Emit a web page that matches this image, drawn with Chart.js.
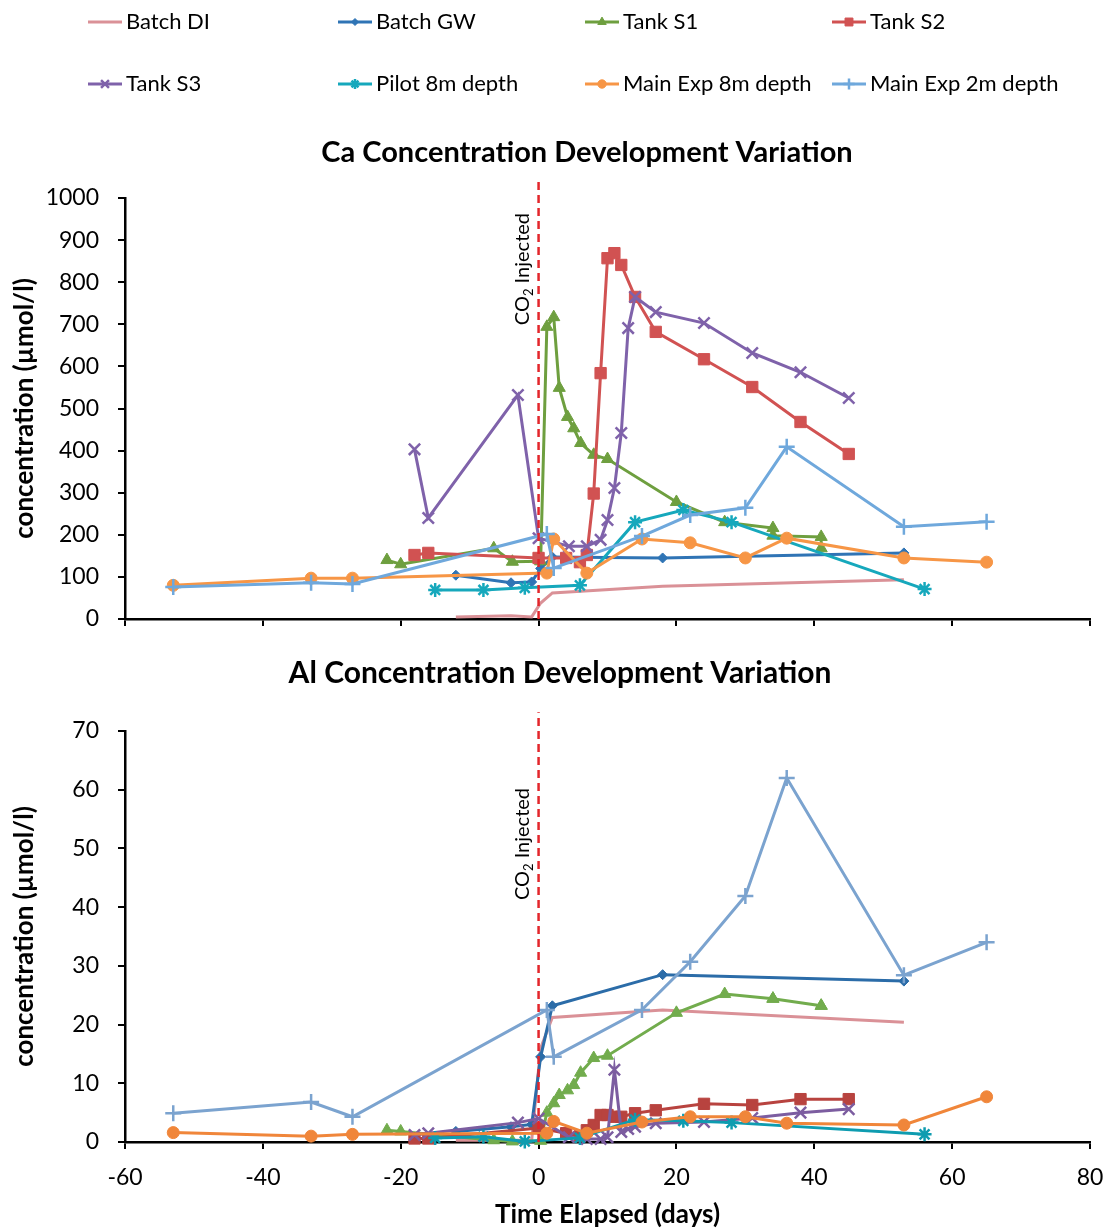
<!DOCTYPE html>
<html>
<head>
<meta charset="utf-8">
<script src="https://cdn.jsdelivr.net/npm/chart.js@4.4.1/dist/chart.umd.min.js"></script>
<style>
  body { margin: 0; background: #fff; }
  canvas { display: block; }
</style>
</head>
<body>
<canvas id="caChart" width="1108" height="640"></canvas>
<canvas id="alChart" width="1108" height="590"></canvas>
<script>
// ---- data ----
const seriesNames = ["Batch DI", "Batch GW", "Tank S1", "Tank S2", "Tank S3",
                     "Pilot 8m depth", "Main Exp 8m depth", "Main Exp 2m depth"];

const batchDiDays = [-12, -4, -1, 0.3, 2, 18, 53];
const batchDiCa   = [5, 8, 5, 38, 62, 78, 93];
const batchDiAl   = [0.3, 0.3, 0.3, 16, 21.2, 22.5, 20.4];

const batchGwDays = [-12, -4, -1, 0.3, 2, 18, 53];
const batchGwCa   = [104, 86, 88, 120, 147, 145, 157];
const batchGwAl   = [1.8, 2.6, 3.0, 14.5, 23.2, 28.5, 27.4];

const tankS1Days = [-22, -20, -6.5, -3.8, 0.3, 1.2, 2.2, 3, 4.2, 5.1, 6.1, 8, 10, 20, 27, 34, 34, 41, 41];
const tankS1Ca   = [140, 130, 168, 136, 137, 694, 717, 549, 480, 453, 418, 390, 380, 278, 230, 216, 198, 195, 168];
const tankS1Al   = [2.0, 1.8, 0.3, 0.1, 0.2, 5.0, 6.6, 8.0, 8.8, 9.7, 11.8, 14.3, 14.7, 22.0, 25.2, 24.4, 24.4, 23.2, 23.2];

const tankS2Days = [-18, -16, 0, 4, 6, 7, 8, 9, 10, 11, 12, 14, 17, 24, 31, 38, 45];
const tankS2Ca   = [152, 157, 145, 145, 135, 152, 298, 584, 857, 869, 841, 765, 682, 617, 551, 468, 392];
const tankS2Al   = [0.6, 0.6, 2.4, 1.5, 1.0, 2.0, 2.9, 4.6, 4.6, 4.3, 4.3, 4.9, 5.4, 6.5, 6.3, 7.3, 7.3];

const tankS3Days = [-18, -16, -3, 0, 4.4, 7, 9, 10, 11, 12, 13, 14, 17, 24, 31, 38, 45];
const tankS3Ca   = [403, 240, 532, 192, 173, 173, 188, 235, 311, 442, 691, 765, 729, 703, 632, 586, 525];
const tankS3Al   = [1.2, 1.5, 3.3, 4.0, 0.8, 0.5, 0.5, 0.8, 12.3, 1.7, 2.2, 2.6, 3.2, 3.4, 4.1, 5.0, 5.6];

const pilotDays = [-15, -8, -2, 6, 14, 21, 28, 56];
const pilotCa   = [69, 69, 74, 80, 230, 259, 230, 71];
const pilotAl   = [0.7, 0.9, 0.1, 0.7, 3.8, 3.6, 3.3, 1.3];

const main8Days = [-53, -33, -27, 1.2, 2.2, 7, 15, 22, 30, 36, 53, 65];
const main8Ca   = [80, 97, 97, 109, 190, 109, 190, 181, 145, 192, 145, 135];
const main8Al   = [1.6, 1.0, 1.3, 1.5, 3.5, 1.5, 3.4, 4.3, 4.3, 3.2, 2.9, 7.7];

const main2Days = [-53, -33, -27, 1.2, 2.2, 15, 22, 30, 36, 53, 65];
const main2Ca   = [76, 86, 83, 202, 121, 197, 247, 264, 409, 219, 231];
const main2Al   = [4.9, 6.8, 4.3, 22.5, 14.5, 22.5, 30.7, 41.9, 62, 28.4, 34];

const dayTicks = [-60, -40, -20, 0, 20, 40, 60, 80];
const caTicks  = [0, 100, 200, 300, 400, 500, 600, 700, 800, 900, 1000];
const alTicks  = [0, 10, 20, 30, 40, 50, 60, 70];

// CO2 injection marker (day, line top in each chart's units)
const co2Day = 0;
const co2LineCa = [0, 1043];
const co2LineAl = [0, 73.2];

// ---- styling ----
const FONT = 'Lato, "Open Sans", sans-serif';
Chart.defaults.font.family = FONT;
Chart.defaults.color = "#000";

const caColors = ["#DA9197", "#2F74B5", "#6E9F3F", "#D15252", "#7F62AA", "#16A8BC", "#F79646", "#6FA8DC"];
const alColors = ["#DA9197", "#2B6CA8", "#72AC4D", "#B8433F", "#7C5DA0", "#0E9CB0", "#F0863A", "#7BA3CF"];

const markers = [
  { style: "circle", radius: 0, border: 1 },
  { style: "rectRot", radius: 5, border: 1 },
  { style: "triangle", radius: 7, border: 1 },
  { style: "rect", radius: 8, border: 1 },
  { style: "crossRot", radius: 8, border: 2.5 },
  { style: "star", radius: 7, border: 2.5 },
  { style: "circle", radius: 6, border: 1 },
  { style: "cross", radius: 8, border: 2.5 },
];

const legendCols = [88, 338, 585, 832];
const legendRows = [22, 84];

function buildDatasets(days, values, colors, co2Line) {
  const sets = seriesNames.map((name, i) => ({
    label: name,
    data: days[i].map((d, j) => ({ x: d, y: values[i][j] })),
    showLine: true,
    borderColor: colors[i],
    backgroundColor: colors[i],
    borderWidth: 3,
    pointStyle: markers[i].style,
    pointRadius: markers[i].radius,
    pointHoverRadius: markers[i].radius,
    pointBorderWidth: markers[i].border,
    clip: false,
    order: seriesNames.length - i,
  }));
  sets.push({
    label: "CO2",
    data: co2Line.map(v => ({ x: co2Day, y: v })),
    showLine: true,
    borderColor: "#E3262B",
    borderWidth: 2.5,
    borderDash: [8, 5],
    pointRadius: 0,
    clip: false,
    order: 0,
  });
  return sets;
}

function drawLegend(chart) {
  const ctx = chart.ctx;
  chart.data.datasets.slice(0, seriesNames.length).forEach((ds, i) => {
    const lx = legendCols[i % 4];
    const ly = legendRows[Math.floor(i / 4)];
    ctx.save();
    ctx.strokeStyle = ds.borderColor;
    ctx.fillStyle = ds.borderColor;
    ctx.lineWidth = 3;
    ctx.beginPath();
    ctx.moveTo(lx, ly);
    ctx.lineTo(lx + 34, ly);
    ctx.stroke();
    if (ds.pointRadius > 0) {
      ctx.lineWidth = ds.pointBorderWidth;
      Chart.helpers.drawPoint(ctx, {
        pointStyle: ds.pointStyle,
        radius: ds.pointRadius * 0.7,
        borderWidth: ds.pointBorderWidth,
        rotation: 0,
      }, lx + 17, ly);
    }
    ctx.fillStyle = "#000";
    ctx.font = "22px " + FONT;
    ctx.textAlign = "left";
    ctx.textBaseline = "middle";
    ctx.fillText(ds.label, lx + 38, ly);
    ctx.restore();
  });
}

const decor = {
  id: "decor",
  afterDraw(chart, args, opts) {
    const ctx = chart.ctx;
    const xs = chart.scales.x, ys = chart.scales.y;
    ctx.save();
    ctx.fillStyle = "#000";
    ctx.font = "bold " + opts.titleSize + "px " + FONT;
    ctx.textAlign = "center";
    ctx.textBaseline = "middle";
    ctx.fillText(opts.title, opts.titleX, opts.titleY);

    // rotated "CO2 Injected" label beside the dashed line
    ctx.translate(xs.getPixelForValue(co2Day) - 10, ys.getPixelForValue(opts.labelAt));
    ctx.rotate(-Math.PI / 2);
    ctx.textAlign = "left";
    ctx.textBaseline = "alphabetic";
    ctx.font = "20px " + FONT;
    ctx.fillText("CO", 0, 0);
    let w = ctx.measureText("CO").width;
    ctx.font = "13px " + FONT;
    ctx.fillText("2", w, 4);
    w += ctx.measureText("2").width;
    ctx.font = "20px " + FONT;
    ctx.fillText(" Injected", w, 0);
    ctx.restore();

    if (opts.legend) drawLegend(chart);
  },
};

function makeChart(id, datasets, cfg) {
  return new Chart(document.getElementById(id), {
    type: "scatter",
    data: { datasets },
    plugins: [decor],
    options: {
      responsive: false,
      animation: false,
      layout: { padding: { top: cfg.padTop, right: 18, left: 0, bottom: 0 } },
      plugins: {
        legend: { display: false },
        title: { display: false },
        tooltip: { enabled: true },
        decor: cfg.decor,
      },
      scales: {
        x: {
          type: "linear",
          min: -60,
          max: 80,
          afterBuildTicks: s => { s.ticks = dayTicks.map(v => ({ value: v })); },
          // fixed box size, and keep the label overhang from shrinking the plot
          afterFit: s => { s.height = cfg.xHeight; s.paddingLeft = 0; s.paddingRight = 0; },
          ticks: {
            display: true,
            color: cfg.showXLabels ? "#000" : "rgba(0,0,0,0)",
            font: { size: 23 },
            padding: 15,
            maxRotation: 0,
            callback: v => String(v),
          },
          grid: { drawOnChartArea: false, drawTicks: true, tickLength: 7, color: "#000", lineWidth: 2 },
          border: { display: true, color: "#000", width: 2.5 },
          title: {
            display: cfg.showXLabels,
            text: "Time Elapsed (days)",
            font: { size: 26, weight: "bold" },
            padding: { top: 0, bottom: 0 },
          },
        },
        y: {
          min: 0,
          max: cfg.yMax,
          afterBuildTicks: s => { s.ticks = cfg.yTicks.map(v => ({ value: v })); },
          afterFit: s => { s.width = 125; s.paddingTop = 0; s.paddingBottom = 0; },
          ticks: { font: { size: 23 }, padding: 19, callback: v => String(v) },
          grid: { drawOnChartArea: false, drawTicks: true, tickLength: 7, color: "#000", lineWidth: 2 },
          border: { display: true, color: "#000", width: 2.5 },
          title: {
            display: true,
            text: "concentration (µmol/l)",
            font: { size: 26, weight: "bold" },
            padding: { top: 9, bottom: 0 },
          },
        },
      },
    },
  });
}

makeChart("caChart",
  buildDatasets(
    [batchDiDays, batchGwDays, tankS1Days, tankS2Days, tankS3Days, pilotDays, main8Days, main2Days],
    [batchDiCa, batchGwCa, tankS1Ca, tankS2Ca, tankS3Ca, pilotCa, main8Ca, main2Ca],
    caColors, co2LineCa),
  {
    padTop: 198, xHeight: 21, showXLabels: false, yMax: 1000, yTicks: caTicks,
    decor: { title: "Ca Concentration Development Variation", titleSize: 29, titleX: 587, titleY: 153, labelAt: 698, legend: true },
  });

makeChart("alChart",
  buildDatasets(
    [batchDiDays, batchGwDays, tankS1Days, tankS2Days, tankS3Days, pilotDays, main8Days, main2Days],
    [batchDiAl, batchGwAl, tankS1Al, tankS2Al, tankS3Al, pilotAl, main8Al, main2Al],
    alColors, co2LineAl),
  {
    padTop: 91, xHeight: 88, showXLabels: true, yMax: 70, yTicks: alTicks,
    decor: { title: "Al Concentration Development Variation", titleSize: 30, titleX: 560, titleY: 33, labelAt: 41.2, legend: false },
  });
</script>
</body>
</html>
